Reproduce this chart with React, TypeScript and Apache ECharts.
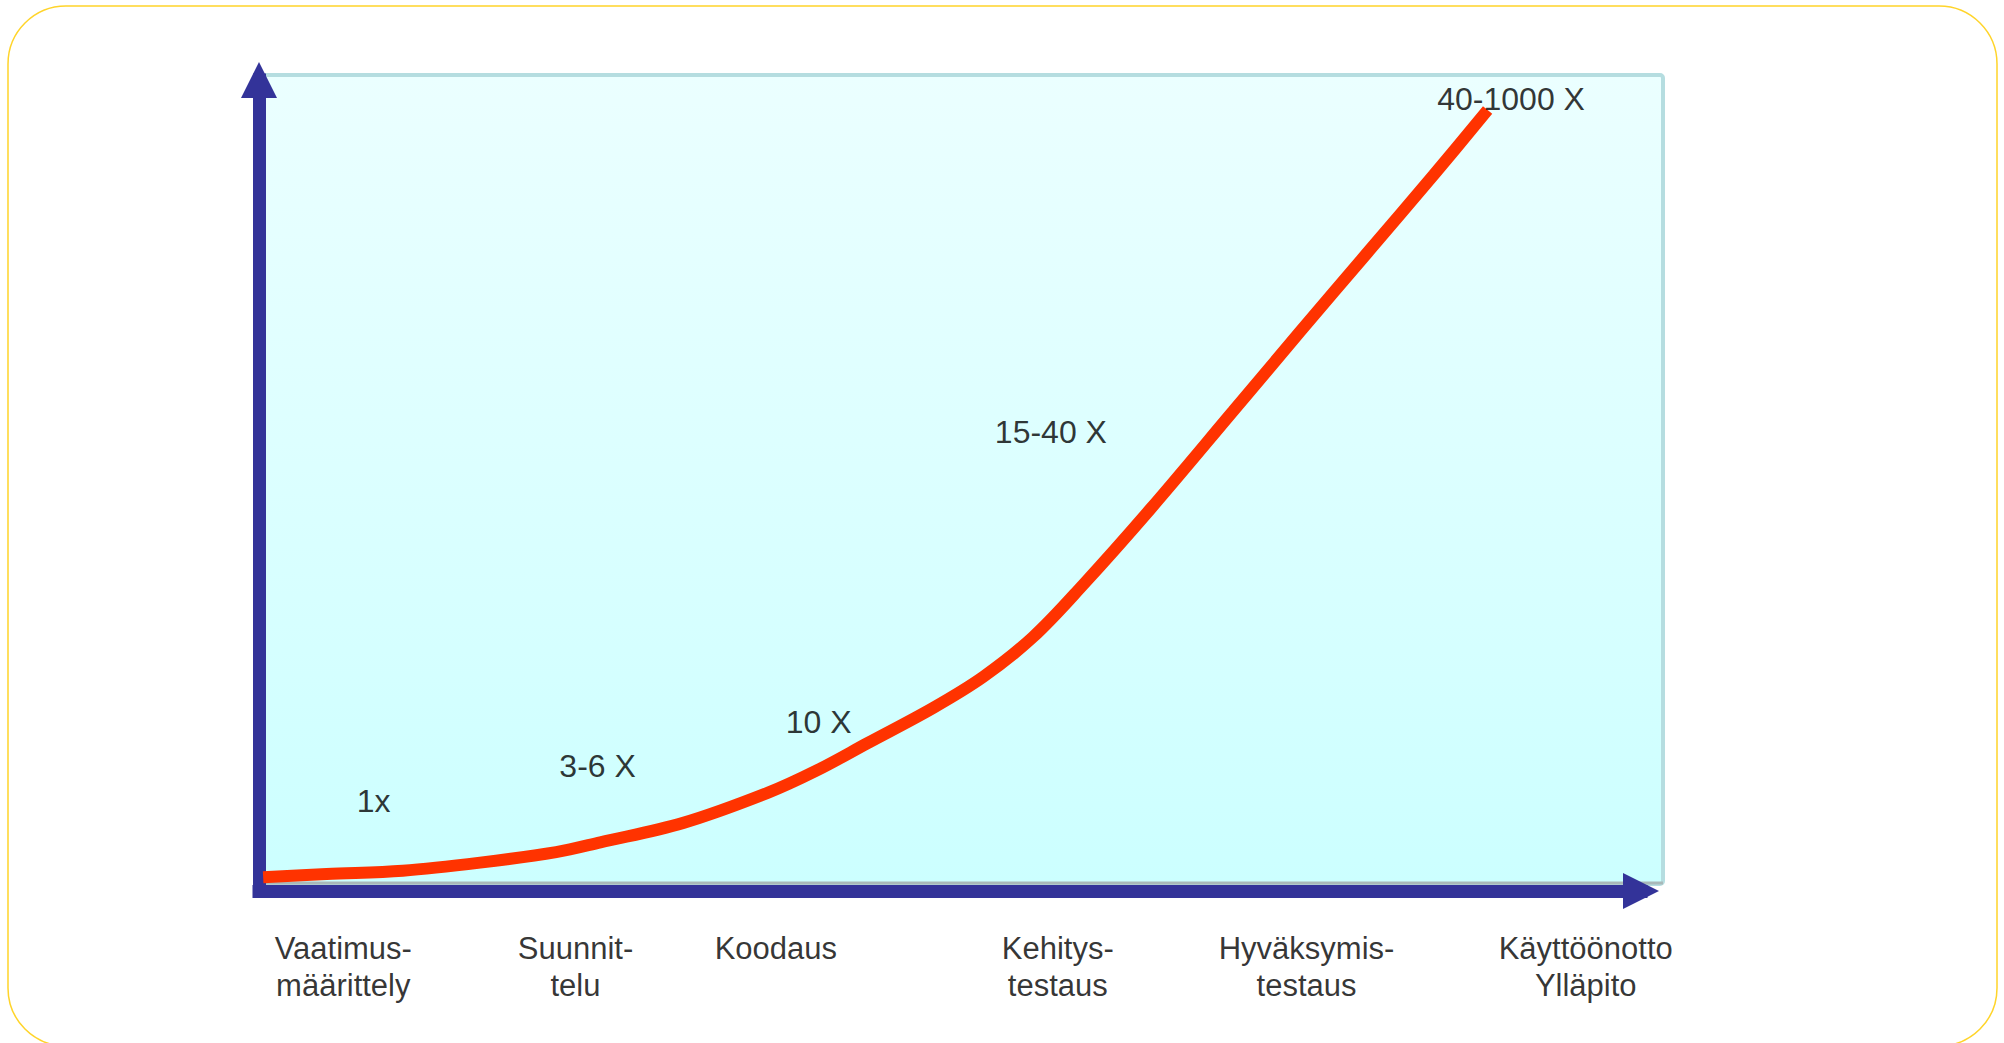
import React, { useEffect, useRef } from "react";
import * as echarts from "echarts";

// Curve: relative cost of fixing a defect, by phase position (0-100 scale)
const curveX = [0.3, 4.9, 10.4, 16.0, 21.5, 24.7, 30.7, 36.8, 40.4, 44.0, 48.8, 52.4, 56.0, 59.6, 64.5, 70.5, 75.3, 80.2, 85.0, 88.9];
const curveY = [1.7, 2.1, 2.5, 3.5, 4.8, 6.0, 8.4, 12.1, 14.9, 18.2, 22.6, 26.4, 31.3, 37.7, 47.1, 59.2, 68.9, 78.7, 88.3, 96.3];

// Cost multiplier annotations
const annotLabels = ["1x", "3-6 X", "10 X", "15-40 X", "40-1000 X"];
const annotX = [8.3, 24.5, 40.5, 57.3, 90.6];
const annotY = [11.1, 15.4, 20.8, 56.6, 97.7];

// Phases along the x axis
const phases = ["Vaatimus-\nmäärittely", "Suunnit-\ntelu", "Koodaus", "Kehitys-\ntestaus", "Hyväksymis-\ntestaus", "Käyttöönotto\nYlläpito"];
const phaseX = [6.1, 22.9, 37.4, 57.8, 75.8, 96.0];
const PHASE_LABEL_Y = -4.75;

const FONT = "'Liberation Sans', Arial, sans-serif";
const AXIS_COLOR = "#333399";

export default function App() {
  const ref = useRef<HTMLDivElement>(null);

  useEffect(() => {
    if (!ref.current) return;
    const chart = echarts.init(ref.current, undefined, { renderer: "svg" });

    const axisCommon = {
      type: "value" as const,
      min: 0,
      max: 100,
      splitLine: { show: false },
      axisTick: { show: false },
      axisLabel: { show: false },
      axisLine: {
        show: true,
        symbol: ["none", "triangle"],
        symbolSize: [36, 36],
        lineStyle: { color: AXIS_COLOR, width: 13, cap: "square" },
      },
    };

    chart.setOption({
      animation: false,
      backgroundColor: "#ffffff",
      grid: { left: 259, right: 363, top: 80, bottom: 152 },
      xAxis: { ...axisCommon },
      yAxis: { ...axisCommon },
      graphic: [
        {
          type: "rect",
          z: -20,
          shape: { x: 8, y: 6, width: 1989, height: 1040, r: 58 },
          style: { fill: "none", stroke: "#ffd42a", lineWidth: 1.5 },
          silent: true,
        },
        {
          type: "rect",
          z: -10,
          shape: { x: 264, y: 75, width: 1399, height: 809, r: 3 },
          style: {
            fill: new echarts.graphic.LinearGradient(0, 0, 0, 1, [
              { offset: 0, color: "#ebffff" },
              { offset: 1, color: "#ccffff" },
            ]),
            stroke: "#b5dde0",
            lineWidth: 4,
          },
          silent: true,
        },
        {
          type: "line",
          z: -5,
          shape: { x1: 262, y1: 883, x2: 1663, y2: 883 },
          style: { stroke: "#a9b9b9", lineWidth: 3 },
          silent: true,
        },
      ],
      series: [
        {
          type: "line",
          data: curveX.map((x, i) => [x, curveY[i]]),
          showSymbol: false,
          smooth: 0.35,
          z: 5,
          silent: true,
          lineStyle: { color: "#ff3300", width: 12, cap: "butt" },
        },
        {
          type: "scatter",
          symbolSize: 0,
          clip: false,
          silent: true,
          z: 6,
          data: annotLabels.map((n, i) => ({ name: n, value: [annotX[i], annotY[i]] })),
          label: {
            show: true,
            position: "inside",
            formatter: (p: any) => p.name,
            color: "#000000",
            fontFamily: FONT,
            fontSize: 32,
          },
        },
        {
          type: "scatter",
          symbolSize: 0,
          clip: false,
          silent: true,
          z: 6,
          data: phases.map((n, i) => ({ name: n, value: [phaseX[i], PHASE_LABEL_Y] })),
          label: {
            show: true,
            position: [0, 0],
            align: "center",
            verticalAlign: "top",
            formatter: (p: any) => p.name,
            color: "#000000",
            fontFamily: FONT,
            fontSize: 31,
            lineHeight: 37,
          },
        },
      ],
    });

    return () => chart.dispose();
  }, []);

  return (
    <div
      ref={ref}
      style={{ position: "fixed", left: 0, top: 0, width: 2004, height: 1043, background: "#ffffff" }}
    />
  );
}
